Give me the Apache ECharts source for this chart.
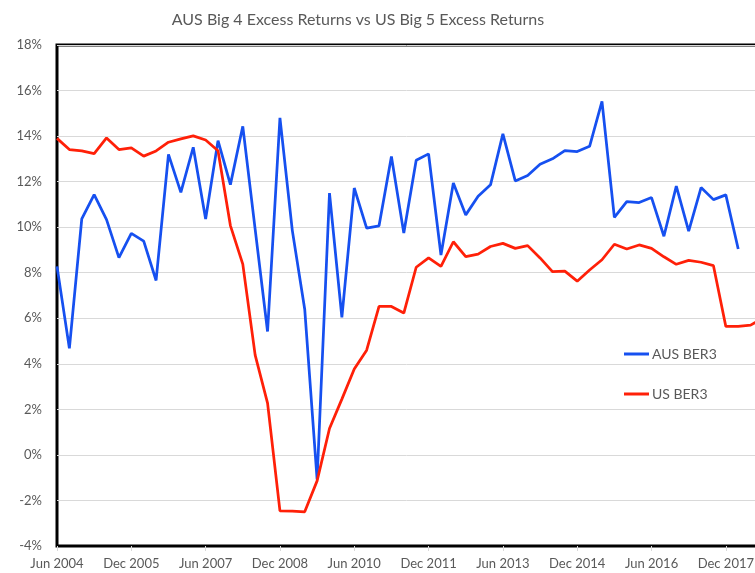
<!DOCTYPE html>
<html>
<head>
<meta charset="utf-8">
<title>AUS Big 4 vs US Big 5 Excess Returns</title>
<script src="https://cdn.jsdelivr.net/npm/echarts@6/dist/echarts.min.js"></script>
<style>
  html, body { margin: 0; padding: 0; background: #fff; }
  #chart { width: 755px; height: 573px; }
</style>
</head>
<body>
<div id="chart"></div>
<script>
// quarterly, Jun 2004 .. Sep 2018
const quarters = [
  'Jun 2004', 'Sep 2004', 'Dec 2004', 'Mar 2005', 'Jun 2005', 'Sep 2005', 'Dec 2005', 'Mar 2006',
  'Jun 2006', 'Sep 2006', 'Dec 2006', 'Mar 2007', 'Jun 2007', 'Sep 2007', 'Dec 2007', 'Mar 2008',
  'Jun 2008', 'Sep 2008', 'Dec 2008', 'Mar 2009', 'Jun 2009', 'Sep 2009', 'Dec 2009', 'Mar 2010',
  'Jun 2010', 'Sep 2010', 'Dec 2010', 'Mar 2011', 'Jun 2011', 'Sep 2011', 'Dec 2011', 'Mar 2012',
  'Jun 2012', 'Sep 2012', 'Dec 2012', 'Mar 2013', 'Jun 2013', 'Sep 2013', 'Dec 2013', 'Mar 2014',
  'Jun 2014', 'Sep 2014', 'Dec 2014', 'Mar 2015', 'Jun 2015', 'Sep 2015', 'Dec 2015', 'Mar 2016',
  'Jun 2016', 'Sep 2016', 'Dec 2016', 'Mar 2017', 'Jun 2017', 'Sep 2017', 'Dec 2017', 'Mar 2018',
  'Jun 2018', 'Sep 2018'
]

const ausBer3 = [
  8.28, 4.68, 10.36, 11.43, 10.33, 8.66, 9.73, 9.39, 7.66, 13.2,
  11.53, 13.51, 10.36, 13.8, 11.87, 14.43, 9.9, 5.42, 14.8, 9.85,
  6.4, -1.07, 11.5, 6.04, 11.72, 9.96, 10.06, 13.1, 9.74, 12.94,
  13.22, 8.78, 11.94, 10.54, 11.36, 11.86, 14.1, 12.03, 12.27, 12.76,
  13.0, 13.36, 13.32, 13.55, 15.52, 10.43, 11.12, 11.08, 11.3, 9.6,
  11.8, 9.83, 11.74, 11.21, 11.42, 9.04, null, null
]

const usBer3 = [
  13.9, 13.41, 13.35, 13.23, 13.92, 13.41, 13.48, 13.12, 13.35, 13.73,
  13.88, 14.01, 13.83, 13.36, 10.07, 8.38, 4.38, 2.27, -2.46, -2.47,
  -2.5, -1.14, 1.16, 2.45, 3.77, 4.6, 6.52, 6.52, 6.23, 8.24,
  8.65, 8.28, 9.36, 8.71, 8.82, 9.15, 9.29, 9.07, 9.19, 8.65,
  8.05, 8.07, 7.63, 8.12, 8.57, 9.25, 9.04, 9.22, 9.07, 8.7,
  8.37, 8.54, 8.46, 8.31, 5.64, 5.64, 5.7, 6.0
]

const yTicks = { min: -4, max: 18, step: 2 }

const font = 'Lato, "Open Sans", sans-serif'
const grey = '#595959'

const chart = echarts.init(document.getElementById('chart'))
chart.setOption({
  animation: false,
  textStyle: { fontFamily: font },
  title: {
    text: 'AUS Big 4 Excess Returns vs US Big 5 Excess Returns',
    left: 353, top: 7, textAlign: 'center',
    textStyle: { fontSize: 16, fontWeight: 'normal', color: grey, fontFamily: font }
  },
  legend: {
    orient: 'vertical', left: 619, top: 341,
    icon: 'rect', itemWidth: 25, itemHeight: 3, itemGap: 24,
    textStyle: { fontSize: 14, color: grey, lineHeight: 16, padding: [0, 0, 0, -2] },
    data: ['AUS BER3', 'US BER3']
  },
  // plot area runs past the right edge of the picture
  grid: {
    left: 57, top: 45, height: 501, width: 706,
    outerBoundsMode: 'none', containLabel: false,
    show: true, borderColor: '#000', borderWidth: 3
  },
  xAxis: [{
    type: 'category', data: quarters, boundaryGap: false,
    axisLine: { show: false }, axisTick: { show: false },
    axisLabel: { interval: 5, color: grey, fontSize: 13, margin: 11 }
  }, {
    type: 'category', data: quarters, boundaryGap: false, position: 'bottom',
    axisLine: { onZero: true, lineStyle: { color: '#000', width: 2 } },
    axisTick: { show: true, interval: 5, length: 5, lineStyle: { color: '#d9d9d9' } },
    axisLabel: { show: false }
  }],
  yAxis: {
    type: 'value', min: yTicks.min, max: yTicks.max, interval: yTicks.step,
    axisLine: { show: false }, axisTick: { show: false },
    axisLabel: { formatter: '{value}%', color: grey, fontSize: 13, margin: 15 },
    splitLine: { lineStyle: { color: '#d9d9d9', width: 1 } }
  },
  series: [{
    name: 'AUS BER3', type: 'line', data: ausBer3,
    symbol: 'none', lineStyle: { color: '#1650f0', width: 2.75 }, itemStyle: { color: '#1650f0' }
  }, {
    name: 'US BER3', type: 'line', data: usBer3,
    symbol: 'none', lineStyle: { color: '#ff2008', width: 2.75 }, itemStyle: { color: '#ff2008' }
  }]
})
</script>
</body>
</html>
